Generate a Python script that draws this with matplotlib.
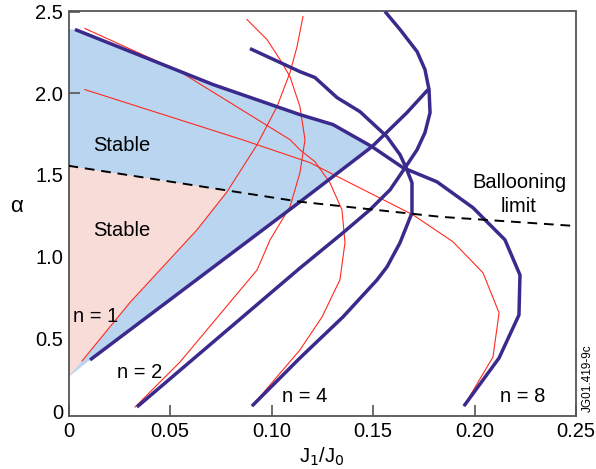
import matplotlib
matplotlib.use("Agg")
import matplotlib.pyplot as plt
import numpy as np

plt.rcParams['font.family'] = ['Liberation Sans', 'DejaVu Sans']

# ---- data (J1/J0, alpha) ----
purple_n1_x = [0.0106, 0.114, 0.1495, 0.1667, 0.1771]
purple_n1_y = [0.368, 1.335, 1.673, 1.881, 2.022]

purple_n2_x = [0.0337, 0.114, 0.1352, 0.1485, 0.1584, 0.1658, 0.1717, 0.1756, 0.1781, 0.1776, 0.1756, 0.1717, 0.1633, 0.1559]
purple_n2_y = [0.080, 0.930, 1.146, 1.287, 1.409, 1.544, 1.654, 1.759, 1.881, 2.022, 2.145, 2.255, 2.390, 2.50]

purple_n4_x = [0.0904, 0.114, 0.1352, 0.152, 0.1569, 0.1633, 0.1692, 0.1692, 0.1663, 0.1633, 0.1569, 0.1436, 0.1323, 0.1214, 0.114, 0.0894]
purple_n4_y = [0.086, 0.380, 0.631, 0.858, 0.9375, 1.085, 1.268, 1.452, 1.544, 1.624, 1.734, 1.887, 1.973, 2.096, 2.132, 2.273]

purple_n8_x = [0.0032, 0.0712, 0.114, 0.1303, 0.1495, 0.1648, 0.1815, 0.1993, 0.2052, 0.215, 0.2224, 0.2219, 0.2121, 0.1948]
purple_n8_y = [2.390, 2.053, 1.869, 1.808, 1.673, 1.544, 1.458, 1.299, 1.225, 1.103, 0.888, 0.643, 0.380, 0.086]

red_n1_x = [0.0067, 0.0303, 0.0633, 0.0781, 0.0929, 0.1027, 0.1091, 0.1126, 0.1155]
red_n1_y = [0.362, 0.720, 1.164, 1.397, 1.685, 1.918, 2.126, 2.286, 2.469]

red_n2_x = [0.0328, 0.0549, 0.0929, 0.0993, 0.1091, 0.114, 0.1165, 0.114, 0.1091, 0.1042, 0.0978, 0.0879]
red_n2_y = [0.080, 0.355, 0.919, 1.103, 1.305, 1.513, 1.716, 1.918, 2.102, 2.206, 2.328, 2.451]

red_n4_x = [0.0904, 0.114, 0.1249, 0.1337, 0.1362, 0.1347, 0.1288, 0.1214, 0.114, 0.1091, 0.0549, 0.0081]
red_n4_y = [0.086, 0.429, 0.631, 0.858, 1.085, 1.287, 1.452, 1.581, 1.654, 1.716, 2.132, 2.396]

red_n8_x = [0.1948, 0.2091, 0.2121, 0.2042, 0.1894, 0.1697, 0.119, 0.0855, 0.0081]
red_n8_y = [0.086, 0.386, 0.656, 0.901, 1.091, 1.256, 1.575, 1.716, 2.022]

balloon_x = [0.0, 0.060, 0.114, 0.183, 0.248]
balloon_y = [1.556, 1.440, 1.336, 1.244, 1.189]

# stable regions
blue_x = [0.0, 0.0032, 0.0712, 0.114, 0.1303, 0.1495, 0.114, 0.0106, 0.0]
blue_y = [2.390, 2.390, 2.053, 1.869, 1.808, 1.673, 1.335, 0.368, 0.263]

pink_x = [0.0, 0.0067, 0.0303, 0.0633, 0.078, 0.060, 0.0]
pink_y = [0.263, 0.362, 0.720, 1.164, 1.40, 1.440, 1.556]

xticks = [0, 0.05, 0.10, 0.15, 0.20, 0.25]
xticklabels = ['0', '0.05', '0.10', '0.15', '0.20', '0.25']
yticks = [0.05, 0.5, 1.0, 1.5, 2.0, 2.5]
yticklabels = ['0', '0.5', '1.0', '1.5', '2.0', '2.5']

PURPLE = '#3b2a8c'
RED = '#ff2a1f'
BLUE = '#b9d5f0'
PINK = '#f8dcd8'

fig = plt.figure(figsize=(5.96, 4.69), dpi=100)
ax = fig.add_axes([68.5/596, 53/469, 507.5/596, 404.5/469])

ax.fill(blue_x, blue_y, color=BLUE, lw=0, zorder=1)
ax.fill(pink_x, pink_y, color=PINK, lw=0, zorder=2)

for xs, ys in [(red_n1_x, red_n1_y), (red_n2_x, red_n2_y), (red_n4_x, red_n4_y), (red_n8_x, red_n8_y)]:
    ax.plot(xs, ys, color=RED, lw=0.8, zorder=3)
for xs, ys in [(purple_n1_x, purple_n1_y), (purple_n2_x, purple_n2_y), (purple_n4_x, purple_n4_y), (purple_n8_x, purple_n8_y)]:
    ax.plot(xs, ys, color=PURPLE, lw=2.5, zorder=4, solid_capstyle='butt')

ax.plot(balloon_x, balloon_y, color='black', lw=1.4, ls=(0, (5, 3.5)), zorder=5)

ax.set_xlim(0, 0.25)
ax.set_ylim(0.025, 2.5)
ax.set_xticks(xticks)
ax.set_xticklabels(xticklabels)
ax.set_yticks(yticks)
ax.set_yticklabels(yticklabels)
ax.tick_params(direction='in', length=8, width=1.2, color='#555555', labelsize=14.5, pad=4)
ax.yaxis.get_major_ticks()[0].tick1line.set_visible(False)
for s in ax.spines.values():
    s.set_color('#555555')
    s.set_linewidth(1.3)

ax.set_xlabel('J$_1$/J$_0$', fontsize=14.5, labelpad=4)
ax.text(-0.0254, 1.305, 'α', fontsize=16, ha='center', va='center', clip_on=False)

tfs = 14.5
ax.text(0.0261, 1.682, 'Stable', fontsize=tfs, ha='center', va='center', zorder=6)
ax.text(0.0261, 1.162, 'Stable', fontsize=tfs, ha='center', va='center', zorder=6)
ax.text(0.0133, 0.631, 'n = 1', fontsize=tfs, ha='center', va='center', zorder=6)
ax.text(0.0350, 0.294, 'n = 2', fontsize=tfs, ha='center', va='center', zorder=6)
ax.text(0.1163, 0.147, 'n = 4', fontsize=tfs, ha='center', va='center', zorder=6)
ax.text(0.2236, 0.147, 'n = 8', fontsize=tfs, ha='center', va='center', zorder=6)
ax.text(0.2219, 1.452, 'Ballooning', fontsize=tfs, ha='center', va='center', zorder=6)
ax.text(0.2219, 1.305, 'limit', fontsize=tfs, ha='center', va='center', zorder=6)

fig.text(588/596, 1 - 378/469, 'JG01.419-9c', rotation=90, fontsize=8.5, ha='center', va='center')

fig.savefig('out.png', dpi=100)
